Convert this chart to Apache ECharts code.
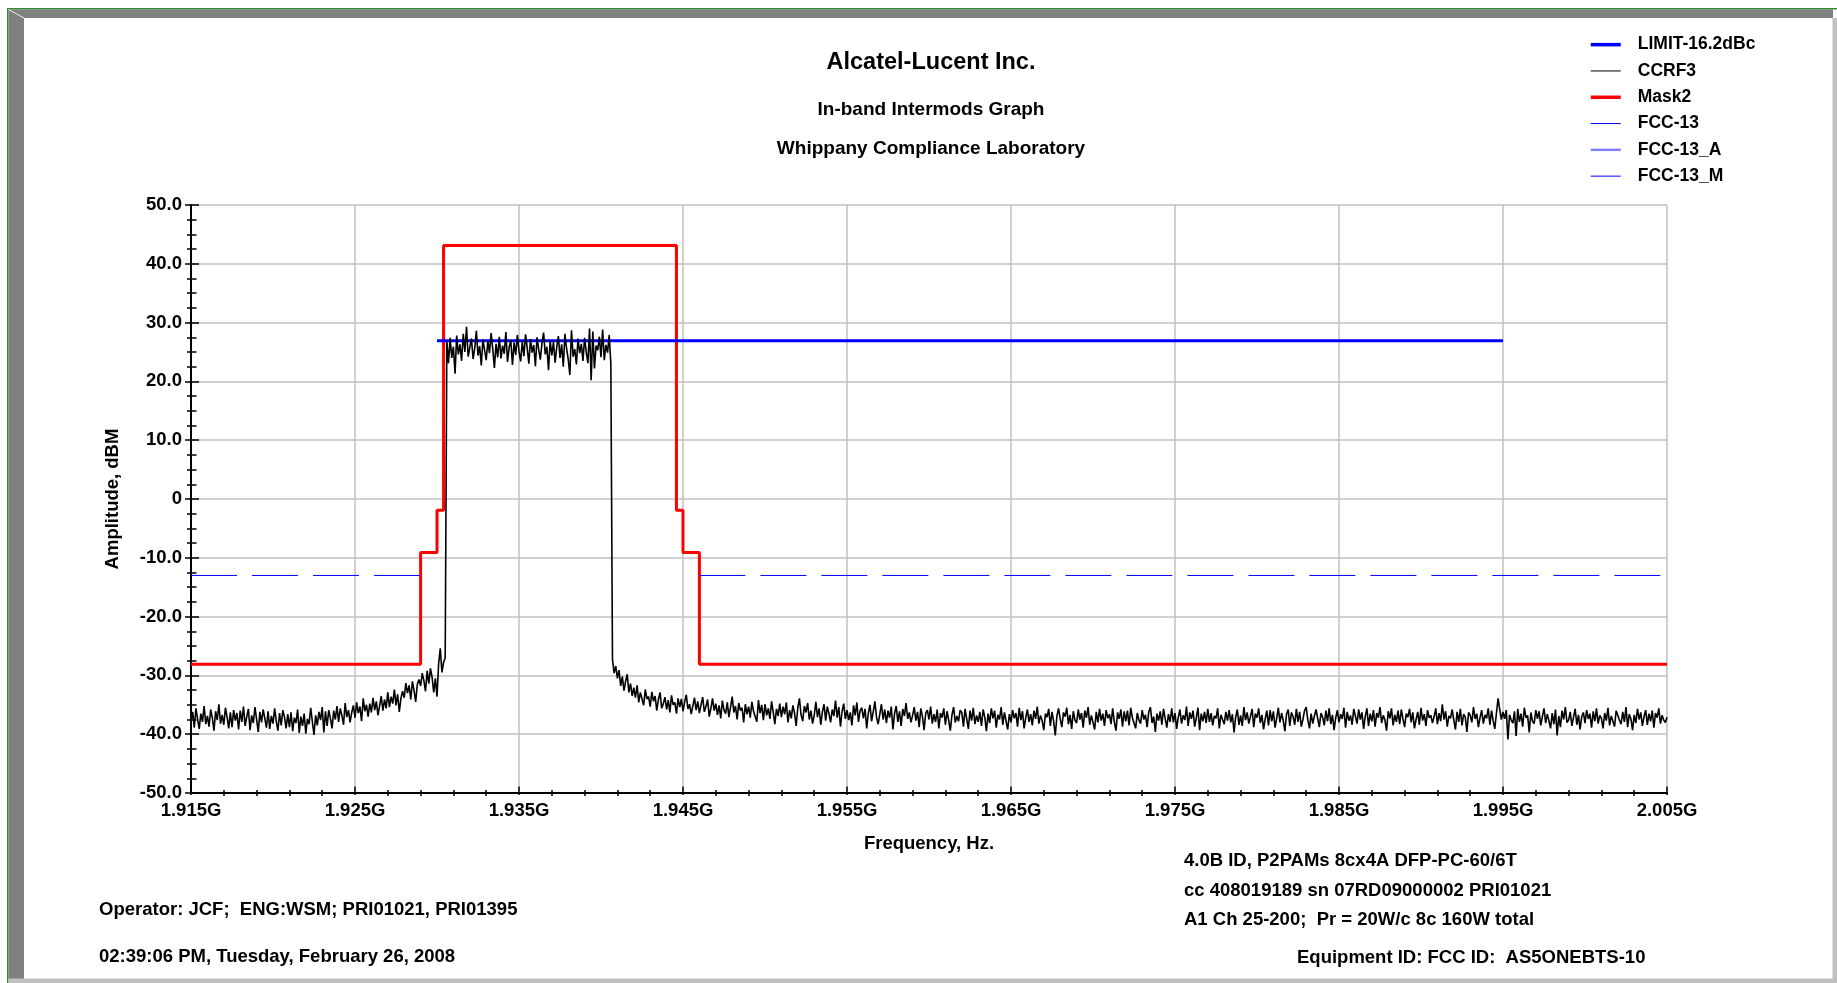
<!DOCTYPE html>
<html><head><meta charset="utf-8">
<script src="https://cdn.jsdelivr.net/npm/echarts@6/dist/echarts.min.js"></script>
<style>html,body{margin:0;padding:0;background:#fff;overflow:hidden}#c{width:1837px;height:983px}</style>
</head><body><div id="c"></div>
<script>
// ---------- data ----------
const titleText = 'Alcatel-Lucent Inc.';
const subTitle1 = 'In-band Intermods Graph';
const subTitle2 = 'Whippany Compliance Laboratory';
const xAxisName = 'Frequency, Hz.';
const yAxisName = 'Amplitude, dBM';
const leftNotes = ['Operator: JCF;  ENG:WSM; PRI01021, PRI01395', '02:39:06 PM, Tuesday, February 26, 2008'];
const rightNotes = ['4.0B ID, P2PAMs 8cx4A DFP-PC-60/6T', 'cc 408019189 sn 07RD09000002 PRI01021', 'A1 Ch 25-200;  Pr = 20W/c 8c 160W total'];
const equipNote = 'Equipment ID: FCC ID:  AS5ONEBTS-10';
const legendNames = ['LIMIT-16.2dBc', 'CCRF3', 'Mask2', 'FCC-13', 'FCC-13_A', 'FCC-13_M'];

// frequency axis in MHz
const xMinMHz = 1915, xMaxMHz = 2005, xStepMHz = 10;
const yMin = -50, yMax = 50, yStep = 10;

const limitPoints = [[1930, 26.9], [1995, 26.9]];
const maskPoints = [[1915, -28.1], [1929, -28.1], [1929, -9.1], [1930, -9.1], [1930, -1.9], [1930.4, -1.9],
  [1930.4, 43.1], [1944.6, 43.1], [1944.6, -1.9], [1945, -1.9], [1945, -9.1], [1946, -9.1], [1946, -28.1], [2005, -28.1]];
const fcc13Points = [[1915, -13], [1929, -13], [1937.5, '-'], [1946, -13], [2005, -13]];
const fcc13APoints = [];
const fcc13MPoints = [];

// CCRF3 trace, sampled every 0.1 MHz from 1915.0 MHz (one row = 1 MHz)
const ccrf3StartMHz = 1915;
const ccrf3StepMHz = 0.1;
const ccrf3Values = [
-37.8,-36.2,-38.9,-35.6,-37.4,-39.1,-36.5,-37.9,-35.2,-38.3, // 1915
-36.9,-38.7,-35.8,-37.2,-39.4,-36.1,-37.6,-34.9,-38.2,-36.7,
-38.4,-35.5,-37.1,-39.0,-36.3,-38.8,-35.9,-37.7,-36.4,-39.2,
-36.0,-37.9,-35.3,-38.6,-37.0,-35.7,-39.3,-36.8,-38.1,-35.4,
-37.5,-39.6,-36.2,-38.0,-35.8,-37.3,-38.9,-36.1,-39.1,-36.9,
-38.2,-35.6,-37.8,-39.4,-36.4,-38.5,-35.9,-37.1,-39.0,-36.6, // 1920
-38.8,-36.3,-39.5,-37.2,-38.1,-35.8,-39.8,-37.0,-38.6,-36.5,
-39.9,-37.4,-38.3,-35.5,-37.9,-40.1,-36.8,-38.5,-36.2,-37.6,
-35.4,-39.7,-36.1,-38.6,-35.9,-37.3,-39.0,-36.0,-37.5,-35.2,
-37.9,-35.6,-36.8,-38.4,-34.7,-37.1,-35.9,-38.0,-36.3,-35.1,
-37.2,-34.6,-36.4,-35.3,-37.8,-33.9,-36.1,-35.0,-37.0,-34.8, // 1925
-36.3,-33.8,-35.9,-34.4,-36.8,-35.2,-33.5,-36.0,-34.1,-35.6,
-32.9,-35.4,-33.6,-34.8,-32.4,-35.1,-33.2,-36.2,-33.9,-32.7,
-33.8,-31.3,-33.0,-31.7,-34.1,-31.0,-32.6,-34.5,-31.5,-30.7,
-31.8,-29.6,-30.9,-32.7,-29.2,-31.4,-28.8,-30.3,-32.9,-30.5,
-33.6,-28.0,-25.4,-29.5,-27.8,-27.0,26.8,23.1,27.4,24.0,     // 1930
25.9,21.3,27.8,24.6,26.3,23.5,28.1,25.0,29.3,24.2,
24.2,27.3,23.8,25.6,28.6,24.4,26.0,22.7,27.1,25.3,
23.6,26.9,24.8,28.2,25.5,22.3,26.4,24.1,27.6,23.9,
26.1,24.7,28.4,23.3,25.8,27.0,22.8,26.6,24.5,27.9,
25.1,23.4,26.8,24.3,28.0,25.7,23.0,27.2,24.9,26.2,           // 1935
22.6,27.5,25.4,23.7,26.5,28.3,24.6,25.9,21.9,27.0,
24.4,26.7,23.2,25.8,27.7,24.0,26.3,22.5,28.1,25.6,
23.8,21.1,28.7,24.2,25.5,22.9,27.3,24.8,26.4,23.5,
27.4,25.0,23.1,29.0,20.2,28.5,22.2,26.1,25.3,27.6,
24.1,28.8,23.6,26.2,24.9,27.9,23.0,-27.3,-29.6,-28.4,        // 1940
-30.5,-29.1,-31.8,-30.2,-32.6,-31.0,-29.8,-32.9,-31.4,-33.5,
-32.1,-33.8,-31.7,-34.6,-32.9,-33.2,-35.1,-32.4,-34.0,-33.6,
-35.3,-32.8,-34.4,-33.5,-36.0,-34.1,-32.9,-35.6,-34.8,-33.7,
-35.8,-34.2,-36.3,-33.4,-35.0,-34.6,-36.5,-33.9,-35.4,-34.0,
-36.1,-34.5,-33.3,-35.7,-34.9,-36.6,-35.2,-33.8,-35.9,-34.4, // 1945
-36.4,-35.0,-33.7,-36.2,-35.3,-34.1,-37.0,-35.6,-33.9,-36.0,
-34.8,-36.7,-35.1,-37.3,-34.3,-35.9,-36.5,-34.6,-37.1,-35.4,
-33.6,-36.3,-35.2,-37.5,-34.7,-36.0,-35.5,-38.0,-34.9,-36.6,
-35.3,-37.2,-34.5,-36.1,-35.8,-37.9,-34.2,-36.4,-35.0,-37.6,
-34.9,-36.8,-35.6,-37.4,-34.4,-36.2,-38.3,-35.7,-36.9,-34.8, // 1950
-37.1,-35.3,-36.6,-34.6,-38.0,-35.9,-37.3,-35.1,-36.4,-38.6,
-35.5,-33.9,-36.7,-37.8,-35.2,-36.3,-34.7,-37.5,-36.0,-38.2,
-36.8,-34.5,-37.1,-35.6,-38.4,-36.2,-34.9,-37.7,-35.3,-36.5,
-38.0,-35.8,-36.9,-34.3,-37.2,-35.4,-38.7,-36.1,-34.8,-37.4,
-35.9,-37.6,-36.3,-38.5,-35.1,-36.8,-34.6,-37.9,-36.0,-35.5, // 1955
-37.3,-35.7,-39.0,-36.4,-35.0,-37.8,-36.2,-34.4,-37.1,-38.3,
-36.6,-34.9,-37.5,-35.8,-38.1,-36.0,-37.2,-35.3,-39.2,-36.5,
-35.2,-37.9,-36.1,-38.6,-35.7,-36.9,-34.7,-37.4,-36.3,-38.0,
-36.8,-35.4,-37.7,-36.2,-38.8,-35.6,-37.0,-39.3,-36.4,-35.9,
-37.5,-35.3,-38.2,-36.6,-37.9,-35.8,-39.0,-36.4,-37.2,-35.6, // 1960
-38.4,-36.1,-37.6,-39.4,-36.7,-35.4,-38.0,-36.9,-37.8,-35.9,
-36.3,-38.7,-35.7,-37.4,-39.1,-36.0,-37.7,-35.5,-38.3,-36.8,
-37.9,-36.2,-38.6,-35.8,-37.1,-39.5,-36.5,-38.1,-35.6,-37.3,
-36.0,-38.9,-36.7,-37.5,-35.4,-38.4,-36.3,-37.8,-39.2,-36.6,
-38.0,-35.9,-37.3,-36.4,-38.7,-35.5,-37.6,-36.1,-39.0,-37.2, // 1965
-35.8,-37.9,-36.6,-38.5,-36.0,-37.4,-35.3,-38.2,-36.8,-37.7,
-39.3,-36.5,-37.1,-35.7,-38.6,-36.2,-37.8,-40.2,-36.9,-35.6,
-37.4,-38.8,-36.3,-37.0,-35.5,-38.3,-36.7,-39.1,-36.1,-37.6,
-38.1,-35.8,-37.5,-36.4,-38.9,-36.0,-37.2,-35.4,-38.4,-36.8,
-37.0,-39.2,-36.2,-38.0,-35.7,-37.7,-36.5,-38.6,-35.9,-37.3, // 1970
-36.6,-38.3,-35.6,-37.9,-39.4,-36.3,-37.4,-35.8,-38.7,-36.1,
-37.8,-36.0,-38.5,-35.5,-37.2,-36.9,-39.0,-36.4,-37.6,-38.2,
-35.9,-37.5,-36.7,-38.8,-36.2,-35.4,-38.1,-37.0,-39.6,-36.5,
-37.7,-36.1,-38.4,-35.7,-37.3,-38.9,-36.6,-37.9,-35.6,-38.0,
-36.4,-39.1,-37.1,-35.8,-38.2,-36.8,-37.6,-35.3,-38.6,-36.3, // 1975
-37.4,-36.0,-38.7,-37.2,-35.5,-39.3,-36.5,-37.8,-36.2,-38.1,
-35.7,-37.9,-36.4,-38.5,-36.9,-37.3,-35.6,-39.0,-36.7,-37.5,
-38.3,-36.2,-37.7,-35.9,-38.0,-36.6,-39.7,-37.1,-35.8,-38.4,
-36.8,-38.6,-35.4,-37.6,-36.3,-38.2,-37.0,-35.7,-38.8,-36.5,
-37.2,-35.6,-38.1,-36.7,-39.2,-37.4,-36.0,-38.5,-35.9,-37.8, // 1980
-36.1,-38.9,-37.3,-35.5,-38.0,-36.4,-37.7,-39.5,-36.6,-35.8,
-38.6,-36.3,-37.0,-38.4,-35.7,-37.9,-36.2,-38.7,-37.5,-36.0,
-35.4,-37.6,-39.0,-36.5,-38.2,-36.9,-35.8,-37.3,-38.8,-36.4,
-37.1,-38.5,-36.0,-37.8,-35.6,-38.3,-36.7,-39.3,-37.2,-35.9,
-38.0,-36.6,-37.4,-35.5,-38.9,-36.2,-37.7,-36.8,-38.4,-35.7, // 1985
-36.9,-38.2,-35.8,-37.5,-36.3,-39.1,-37.0,-35.6,-38.6,-36.5,
-37.8,-35.9,-38.7,-36.4,-37.2,-35.4,-38.1,-36.8,-37.6,-39.4,
-36.1,-37.3,-35.6,-38.5,-36.7,-37.9,-36.0,-38.3,-35.8,-37.4,
-38.8,-36.5,-37.1,-35.7,-38.0,-36.3,-39.0,-37.5,-36.2,-38.4,
-35.5,-37.7,-36.6,-38.6,-35.9,-37.2,-36.8,-38.1,-37.0,-35.6, // 1990
-38.3,-36.4,-37.8,-34.9,-37.5,-36.1,-38.7,-36.9,-37.3,-35.8,
-37.6,-39.2,-36.2,-37.9,-35.7,-38.5,-36.6,-37.1,-39.6,-36.3,
-36.8,-38.0,-35.4,-37.4,-36.5,-38.8,-37.2,-35.9,-38.2,-36.7,
-37.3,-35.6,-38.4,-36.0,-37.7,-39.1,-36.4,-33.9,-35.8,-37.5,
-36.2,-37.4,-35.9,-40.9,-36.7,-37.6,-38.1,-36.1,-40.3,-35.7, // 1995
-37.9,-36.5,-38.7,-35.5,-37.2,-36.8,-39.7,-36.3,-37.8,-38.2,
-35.9,-37.4,-36.1,-38.5,-37.0,-35.6,-38.1,-36.6,-37.7,-39.0,
-36.4,-38.3,-35.8,-40.2,-36.9,-38.8,-36.0,-37.5,-35.4,-38.0,
-37.6,-36.2,-38.6,-37.1,-35.7,-38.4,-36.7,-39.2,-37.0,-36.3,
-38.1,-35.9,-37.4,-36.5,-38.9,-36.1,-37.8,-35.6,-38.2,-36.8, // 2000
-37.3,-39.0,-36.4,-37.7,-35.5,-38.5,-36.9,-37.2,-38.7,-36.0,
-35.8,-37.6,-38.3,-36.2,-37.9,-35.4,-38.8,-36.6,-37.4,-39.3,
-36.7,-38.1,-35.7,-37.5,-36.3,-38.6,-37.0,-35.9,-38.4,-36.5,
-37.8,-36.0,-38.9,-36.4,-37.2,-35.6,-38.2,-36.8,-37.6,-38.0,
-37.1                                                        // 2005
];

// ---------- build ----------
const FONT = '"Liberation Sans", Arial, Helvetica, sans-serif';
const ccrf3Points = ccrf3Values.map((v, i) => [Math.round((ccrf3StartMHz + i * ccrf3StepMHz) * 10) / 10, v]);

const chart = echarts.init(document.getElementById('c'), null, {renderer: 'canvas'});

function txt(text, x, y, size, align) {
  return {type: 'text', silent: true, style: {text: text, x: x, y: y, fill: '#000',
    font: 'bold ' + size + 'px ' + FONT, textAlign: align || 'left', textVerticalAlign: 'middle'}};
}

const graphics = [
  {type: 'rect', silent: true, shape: {x: 7, y: 8, width: 1830, height: 1.5}, style: {fill: '#2e8b2e'}},
  {type: 'rect', silent: true, shape: {x: 7, y: 8, width: 1.5, height: 975}, style: {fill: '#2e8b2e'}},
  {type: 'polygon', silent: true, shape: {points: [[8.5, 9.5], [1833, 9.5], [1833, 18], [24, 18]]}, style: {fill: '#808080'}},
  {type: 'polygon', silent: true, shape: {points: [[8.5, 9.5], [24, 18], [24, 979], [8.5, 979]]}, style: {fill: '#808080'}},
  {type: 'line', silent: true, shape: {x1: 8.5, y1: 9.5, x2: 24, y2: 18}, style: {stroke: '#e8e8e8', lineWidth: 1}},
  {type: 'rect', silent: true, shape: {x: 1832.5, y: 18, width: 4.5, height: 965}, style: {fill: '#c0c0c0'}},
  {type: 'rect', silent: true, shape: {x: 8.5, y: 978.5, width: 1828.5, height: 4.5}, style: {fill: '#c0c0c0'}},
  txt(titleText, 931, 63, 23.5, 'center'),
  txt(subTitle1, 931, 110, 19, 'center'),
  txt(subTitle2, 931, 149, 19, 'center'),
  txt(leftNotes[0], 99, 910, 18.5),
  txt(leftNotes[1], 99, 957, 18.5),
  txt(rightNotes[0], 1184, 861, 18.5),
  txt(rightNotes[1], 1184, 891, 18.5),
  txt(rightNotes[2], 1184, 920, 18.5),
  txt(equipNote, 1297, 958, 18.5)
];

const labelStyle = {color: '#000', fontWeight: 'bold', fontSize: 18.5, fontFamily: FONT};
const blackLine = {color: '#000', width: 1.5};

const option = {
  animation: false,
  backgroundColor: '#ffffff',
  textStyle: {fontFamily: FONT},
  graphic: graphics,
  grid: {left: 191, top: 205, width: 1476, height: 588, containLabel: false},
  legend: {
    orient: 'vertical', left: 1584, top: 26.5, itemWidth: 30, itemHeight: 14, itemGap: 0,
    itemStyle: {opacity: 0, borderWidth: 0},
    textStyle: {color: '#000', fontWeight: 'bold', fontSize: 17.5, fontFamily: FONT, lineHeight: 26.3, padding: [0, 0, 0, 12]},
    data: [
      {name: legendNames[0], lineStyle: {width: 3.5, color: '#0000ff'}},
      {name: legendNames[1], lineStyle: {width: 1, color: '#000000'}},
      {name: legendNames[2], lineStyle: {width: 3.5, color: '#ff0000'}},
      {name: legendNames[3], lineStyle: {width: 1, type: 'solid', color: '#0000ff'}},
      {name: legendNames[4], lineStyle: {width: 2.5, color: '#8080ff'}},
      {name: legendNames[5], lineStyle: {width: 1, color: '#0000ff'}}
    ],
    selectedMode: false
  },
  xAxis: [
    {
      type: 'value', min: xMinMHz, max: xMaxMHz, interval: xStepMHz, position: 'bottom',
      axisLine: {show: true, onZero: false, lineStyle: {color: '#000', width: 2}},
      axisTick: {show: true, length: 2, lineStyle: blackLine},
      minorTick: {show: true, splitNumber: 5, length: 3, lineStyle: blackLine},
      splitLine: {show: true, lineStyle: {color: '#c0c0c0', width: 1.5}},
      axisLabel: Object.assign({margin: 8, formatter: v => (v / 1000).toFixed(3) + 'G'}, labelStyle),
      name: xAxisName, nameLocation: 'middle', nameGap: 41,
      nameTextStyle: labelStyle
    },
    {
      type: 'value', min: xMinMHz, max: xMaxMHz, interval: xStepMHz, position: 'bottom',
      axisLine: {show: false, onZero: false},
      axisTick: {show: true, inside: true, length: 6.5, lineStyle: blackLine},
      minorTick: {show: true, splitNumber: 5, length: 3, lineStyle: blackLine},
      splitLine: {show: false}, axisLabel: {show: false}
    }
  ],
  yAxis: [
    {
      type: 'value', min: yMin, max: yMax, interval: yStep, position: 'left',
      axisLine: {show: true, onZero: false, lineStyle: {color: '#000', width: 2}},
      axisTick: {show: true, length: 6, lineStyle: blackLine},
      minorTick: {show: true, splitNumber: 4, length: 4, lineStyle: blackLine},
      splitLine: {show: true, lineStyle: {color: '#c0c0c0', width: 1.5}},
      axisLabel: Object.assign({margin: 9, formatter: v => (v === 0 ? '0' : v.toFixed(1))}, labelStyle),
      name: yAxisName, nameLocation: 'middle', nameGap: 69, nameRotate: 90,
      nameTextStyle: labelStyle
    },
    {
      type: 'value', min: yMin, max: yMax, interval: yStep, position: 'left',
      axisLine: {show: false, onZero: false},
      axisTick: {show: true, inside: true, length: 8, lineStyle: blackLine},
      minorTick: {show: true, splitNumber: 4, length: 5.5, lineStyle: blackLine},
      splitLine: {show: false}, axisLabel: {show: false}
    }
  ],
  series: [
    {name: legendNames[2], type: 'line', data: maskPoints, symbol: 'none', z: 3,
      lineStyle: {color: '#ff0000', width: 3}, itemStyle: {color: '#ff0000'}},
    {name: legendNames[3], type: 'line', data: fcc13Points, symbol: 'none', z: 3, connectNulls: false,
      lineStyle: {color: '#0000ff', width: 1, type: [46, 15]}, itemStyle: {color: '#0000ff'}},
    {name: legendNames[4], type: 'line', data: fcc13APoints, symbol: 'none', z: 3,
      lineStyle: {color: '#8080ff', width: 2.5}, itemStyle: {color: '#8080ff'}},
    {name: legendNames[5], type: 'line', data: fcc13MPoints, symbol: 'none', z: 3,
      lineStyle: {color: '#0000ff', width: 1}, itemStyle: {color: '#0000ff'}},
    {name: legendNames[0], type: 'line', data: limitPoints, symbol: 'none', z: 4,
      lineStyle: {color: '#0000ff', width: 3}, itemStyle: {color: '#0000ff'}},
    {name: legendNames[1], type: 'line', data: ccrf3Points, symbol: 'none', z: 5, sampling: false,
      lineStyle: {color: '#000000', width: 1.6}, itemStyle: {color: '#000000'}}
  ]
};
chart.setOption(option);
</script>
</body></html>
